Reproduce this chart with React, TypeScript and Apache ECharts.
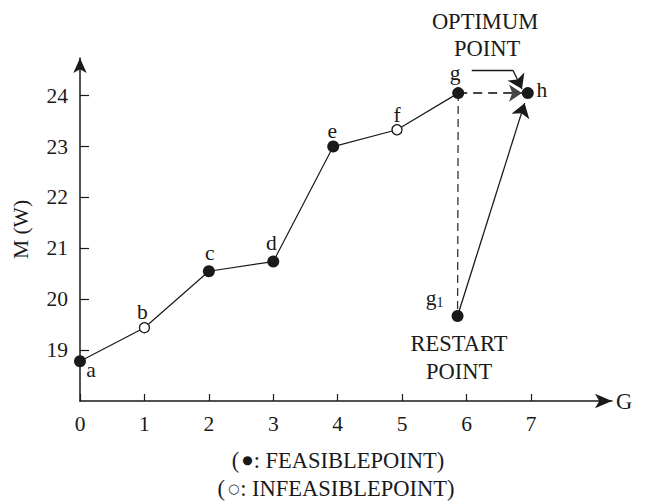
import React, { useEffect, useRef } from "react";
import * as echarts from "echarts";

// ---- data ----
const pathLabels = ["a", "b", "c", "d", "e", "f", "g"];
const pathG = [0, 1, 2, 3, 3.93, 4.92, 5.87];
const pathM = [18.78, 19.44, 20.55, 20.74, 23.0, 23.33, 24.05];
const pathFeasible = [true, false, true, true, true, false, true];

const restartLabel = "g1";
const restartG = 5.86;
const restartM = 19.67;

const optimumLabel = "h";
const optimumG = 6.95;
const optimumM = 24.05;

const xTicks = [0, 1, 2, 3, 4, 5, 6, 7];
const yTicks = [19, 20, 21, 22, 23, 24];

// ---- styling (positions / sizes kept apart from data) ----
const FONT = '"Liberation Serif", "Times New Roman", Times, serif';
const INK = "#1a1a1a";
const FS = 21.5;
const FS_NOTE = 22.5;
const labelOffsets: Record<string, [number, number]> = {
  a: [11, 9],
  b: [-2, -16],
  c: [1, -18],
  d: [-2, -19],
  e: [-1, -16],
  f: [0, -15],
  g: [-3, -20],
  h: [14, -3],
  g1: [-23, -18],
};

export default function App() {
  const ref = useRef<HTMLDivElement>(null);

  useEffect(() => {
    if (!ref.current) return;
    const chart = echarts.init(ref.current, undefined, { renderer: "svg" });

    const pointData = pathLabels.map((name, i) => ({
      name,
      value: [pathG[i], pathM[i]],
      symbolSize: pathFeasible[i] ? 12 : 10,
      itemStyle: pathFeasible[i]
        ? { color: INK, borderColor: INK, borderWidth: 0, opacity: 1 }
        : { color: "#fff", borderColor: INK, borderWidth: 1.3, opacity: 1 },
      label: { offset: labelOffsets[name] },
    }));

    const jumpData = [
      {
        name: restartLabel,
        value: [restartG, restartM],
        label: { offset: labelOffsets.g1, formatter: "{g|g}{s|1}" },
      },
      {
        name: optimumLabel,
        value: [optimumG, optimumM],
        label: { offset: labelOffsets.h },
      },
    ];

    // arrow from restart point to optimum, stopping a little short so the head touches the dot
    const t = 0.955;
    const riseEnd = [
      restartG + t * (optimumG - restartG),
      restartM + t * (optimumM - restartM),
    ];
    const gIdx = pathLabels.length - 1;
    const bendY = pathM[gIdx] + 0.45;
    const bendStart = [pathG[gIdx] + 0.21, bendY];
    const bendCorner = [optimumG - 0.23, bendY];
    const bendEnd = [optimumG - 0.09, optimumM + 0.08];

    const option: any = {
      animation: false,
      backgroundColor: "#fff",
      textStyle: { fontFamily: FONT, color: INK },
      grid: {
        left: 80,
        right: 34,
        top: 58,
        bottom: 101,
        outerBoundsMode: "none",
        containLabel: false,
      },
      xAxis: {
        type: "value",
        min: 0,
        max: 8.257,
        interval: 1,
        name: "G",
        nameLocation: "end",
        nameGap: 4,
        nameTextStyle: { fontFamily: FONT, fontSize: FS_NOTE, color: INK, verticalAlign: "middle" },
        axisLine: {
          show: true,
          symbol: ["none", "arrow"],
          symbolSize: [11, 17],
          lineStyle: { color: INK, width: 1.5 },
        },
        axisTick: {
          show: true,
          inside: true,
          length: 7,
          customValues: xTicks,
          lineStyle: { color: INK, width: 1.2 },
        },
        axisLabel: {
          show: true,
          customValues: xTicks,
          margin: 12,
          fontFamily: FONT,
          fontSize: FS,
          color: INK,
        },
        splitLine: { show: false },
      },
      yAxis: {
        type: "value",
        min: 18,
        max: 24.74,
        interval: 1,
        name: "M (W)",
        nameLocation: "middle",
        nameRotate: 90,
        nameGap: 48,
        nameTextStyle: { fontFamily: FONT, fontSize: FS, color: INK },
        axisLine: {
          show: true,
          symbol: ["none", "arrow"],
          symbolSize: [10, 15],
          lineStyle: { color: INK, width: 1.5 },
        },
        axisTick: {
          show: true,
          inside: true,
          length: 9,
          customValues: yTicks,
          lineStyle: { color: INK, width: 1.2 },
        },
        axisLabel: {
          show: true,
          customValues: yTicks,
          margin: 12,
          fontFamily: FONT,
          fontSize: FS,
          color: INK,
        },
        splitLine: { show: false },
      },
      series: [
        {
          type: "line",
          data: pathLabels.map((_, i) => [pathG[i], pathM[i]]),
          showSymbol: false,
          lineStyle: { color: INK, width: 1.2, opacity: 1 },
          z: 2,
        },
        {
          type: "lines",
          coordinateSystem: "cartesian2d",
          z: 2,
          symbol: ["none", "arrow"],
          lineStyle: { color: INK, opacity: 1 },
          itemStyle: { color: INK, opacity: 1 },
          data: [
            {
              coords: [
                [pathG[gIdx], pathM[gIdx]],
                [restartG, restartM],
              ],
              lineStyle: { type: [8, 5], color: "#333", width: 1.3, opacity: 1 },
              symbol: ["none", "none"],
            },
            {
              coords: [
                [pathG[gIdx], pathM[gIdx]],
                [optimumG - 0.09, optimumM],
              ],
              lineStyle: { type: [9, 6], color: "#444", width: 1.8, opacity: 1 },
              symbol: ["none", "arrow"],
              symbolSize: [10, 13],
            },
            {
              coords: [[restartG, restartM], riseEnd],
              lineStyle: { type: "solid", color: INK, width: 1.3, opacity: 1 },
              symbol: ["none", "arrow"],
              symbolSize: [10, 14],
            },
            {
              coords: [bendStart, bendCorner],
              lineStyle: { type: "solid", color: INK, width: 1.3, opacity: 1 },
              symbol: ["none", "none"],
            },
            {
              coords: [bendCorner, bendEnd],
              lineStyle: { type: "solid", color: INK, width: 1.3, opacity: 1 },
              symbol: ["none", "arrow"],
              symbolSize: [10, 14],
            },
          ],
        },
        {
          type: "scatter",
          data: pointData,
          symbol: "circle",
          z: 5,
          itemStyle: { opacity: 1 },
          label: {
            show: true,
            position: "inside",
            formatter: "{b}",
            color: INK,
            fontFamily: FONT,
            fontSize: FS,
          },
        },
        {
          type: "scatter",
          data: jumpData,
          symbol: "circle",
          symbolSize: 12,
          itemStyle: { color: INK, opacity: 1 },
          z: 5,
          label: {
            show: true,
            position: "inside",
            formatter: "{b}",
            color: INK,
            fontFamily: FONT,
            fontSize: FS,
            rich: {
              g: { fontFamily: FONT, fontSize: FS, color: INK },
              s: { fontFamily: FONT, fontSize: 14, color: INK, verticalAlign: "bottom", padding: [6, 0, 0, 0] },
            },
          },
        },
      ],
      graphic: [
        {
          type: "text",
          x: 485,
          y: 21,
          style: { text: "OPTIMUM", fill: INK, fontFamily: FONT, fontSize: FS_NOTE, align: "center", verticalAlign: "middle" },
        },
        {
          type: "text",
          x: 487,
          y: 48,
          style: { text: "POINT", fill: INK, fontFamily: FONT, fontSize: FS_NOTE, align: "center", verticalAlign: "middle" },
        },
        {
          type: "text",
          x: 459,
          y: 343,
          style: { text: "RESTART", fill: INK, fontFamily: FONT, fontSize: FS_NOTE, align: "center", verticalAlign: "middle" },
        },
        {
          type: "text",
          x: 459,
          y: 371,
          style: { text: "POINT", fill: INK, fontFamily: FONT, fontSize: FS_NOTE, align: "center", verticalAlign: "middle" },
        },
        {
          type: "text",
          x: 338,
          y: 460,
          style: {
            text: "({d|●}: FEASIBLEPOINT)",
            fill: INK,
            fontFamily: FONT,
            fontSize: FS_NOTE,
            align: "center",
            verticalAlign: "middle",
            rich: { d: { fontFamily: "DejaVu Sans", fontSize: 12, fill: INK, padding: [0, 1, 0, 3] } },
          },
        },
        {
          type: "text",
          x: 336,
          y: 488,
          style: {
            text: "({d|○}: INFEASIBLEPOINT)",
            fill: INK,
            fontFamily: FONT,
            fontSize: FS_NOTE,
            align: "center",
            verticalAlign: "middle",
            rich: { d: { fontFamily: "DejaVu Sans", fontSize: 13, fill: INK, padding: [0, 1, 0, 3] } },
          },
        },
      ],
    };

    chart.setOption(option);
    return () => chart.dispose();
  }, []);

  return (
    <div
      ref={ref}
      style={{ position: "fixed", left: 0, top: 0, width: 646, height: 502, background: "#fff" }}
    />
  );
}
